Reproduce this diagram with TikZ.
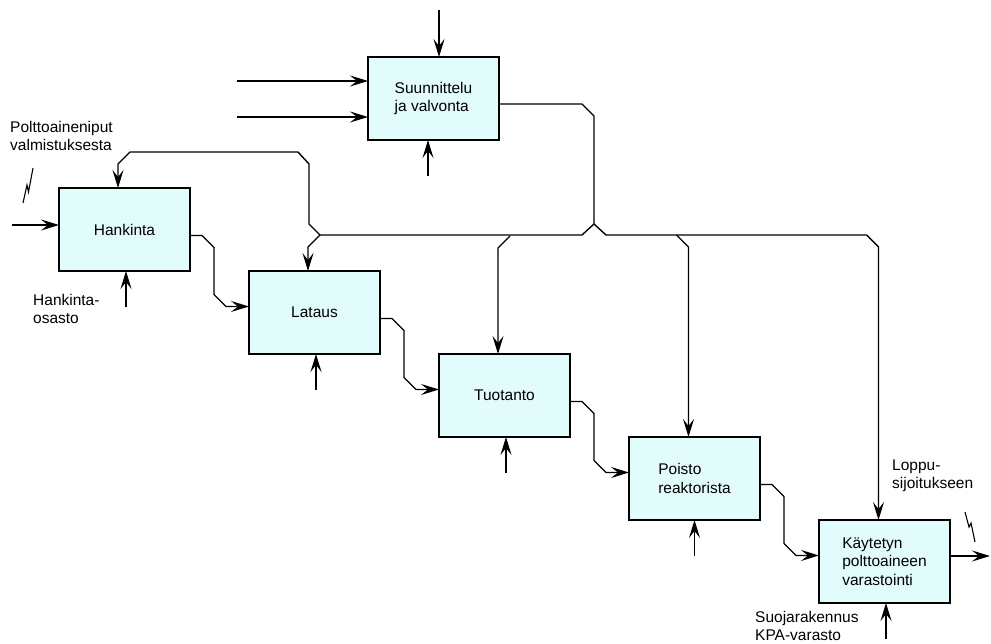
\documentclass[tikz,border=0pt]{standalone}
\usepackage{fontspec}
\setmainfont{Liberation Sans}
\usetikzlibrary{arrows.meta,positioning,calc}
\definecolor{boxcyan}{RGB}{226,251,251}

\begin{document}
\begin{tikzpicture}[
		x=1pt, y=1pt,
		font=\fontsize{15.5}{18.5}\selectfont,
		block/.style = { rectangle, draw=black, line width=1.4pt, fill=boxcyan,
			minimum width=131pt, minimum height=83pt, inner sep=0pt,
			outer sep=0pt, align=left },
		line/.style  = { draw, line width=1.4pt,
			>={Stealth[length=18pt,width=11pt,inset=7pt]} },
		note/.style  = { align=left, inner sep=0pt, anchor=west },
		bolt/.style  = { draw, line width=1.1pt },
	]
	\useasboundingbox (0,0) rectangle (991,-644);
	% activity boxes
	\begin{scope}
		\node [block] (sv) at (433.5,-98.5) {Suunnittelu\\ja valvonta};
		\node [block] (hank) at (124.5,-229.5) {Hankinta};
		\node [block, below right=0pt and 59pt of hank.south east] (lat) {Lataus};
		\node [block, below right=0pt and 59pt of lat.south east] (tuo) {Tuotanto};
		\node [block, below right=0pt and 59pt of tuo.south east] (poi) {Poisto\\reaktorista};
		\node [block, below right=0pt and 59pt of poi.south east] (kay) {Käytetyn\\polttoaineen\\varastointi};
	\end{scope}
	% texts outside the boxes
	\node [note] (nvalm) at (10,-136) {Polttoaineniput\\valmistuksesta};
	\node [note] (nosasto) at (33,-309) {Hankinta-\\osasto};
	\node [note] (nloppu) at (892,-476) {Loppu-\\sijoitukseen};
	\node [note] (nkpa) at (755,-626) {Suojarakennus\\KPA-varasto};
	% free ends
	\coordinate (svtop) at (439,-10);
	\coordinate (svin1) at (237,-81);
	\coordinate (svin2) at (237,-117);
	\coordinate (svctl) at (428,-176);
	\coordinate (hin) at (12,-225);
	\coordinate (kout) at (990,-556);
	\coordinate (jn) at (594,-224);
	\coordinate (bw) at (320,-235);
	% connectors
	\begin{scope} [every path/.style=line]
		\path [->] (svtop) -- (svtop |- sv.north);
		\path [->] (svin1) -- (svin1 -| sv.west);
		\path [->] (svin2) -- (svin2 -| sv.west);
		\path [->] (svctl) -- (svctl |- sv.south);
		\path [->] (hin) -- (hin -| hank.west);
		\path [->] (kay.east |- kout) -- (kout);
		% control lines from planning
		\path ([yshift=-5.5pt]sv.east) --++ (83,0) --++ (12,-12) -- (jn);
		\path (jn) --++ (-12,-11) -- (bw);
		\path [->] (bw) --++ (-11,11) --++ (0,60) --++ (-11,12) --++ (-168,0)
			--++ (-12,-12) -- ([xshift=-6.5pt]hank.north);
		\path [->] (bw) --++ (-12,-12) -- ([xshift=-6.5pt]lat.north);
		\path [<-] ([xshift=-6.5pt]tuo.north) --++ (0,106) --++ (12,12);
		\path [<-] ([xshift=-6pt]poi.north) --++ (0,190) --++ (-12,12);
		\path [<-] ([xshift=-6pt]kay.north) --++ (0,273) --++ (-12,12) coordinate (be);
		\path (jn) --++ (12,-11) -- (be);
		% material flow
		\foreach \a/\b in {hank/lat, lat/tuo, tuo/poi, poi/kay}
			\path [->] ([yshift=-6pt]\a.east) --++ (12,0) --++ (12,-12)
				-- ([xshift=-35pt,yshift=18pt]\b.west)
				-- ([xshift=-23pt,yshift=6pt]\b.west) -- ([yshift=6pt]\b.west);
		% resources from below
		\foreach \n/\s in {hank/1.5, lat/1.5, tuo/1.5, poi/0, kay/1.5}
			\path [<-] ([xshift=\s pt]\n.south) --++ (0,-36) coordinate (\n-res);
	\end{scope}
	% lightning marks
	\path [bolt] (23,-203) -- (27,-185) -- (28.5,-192) -- (33,-168);
	\path [bolt] (965,-512) -- (969,-527) -- (971,-523) -- (975,-542);
\end{tikzpicture}
\end{document}
